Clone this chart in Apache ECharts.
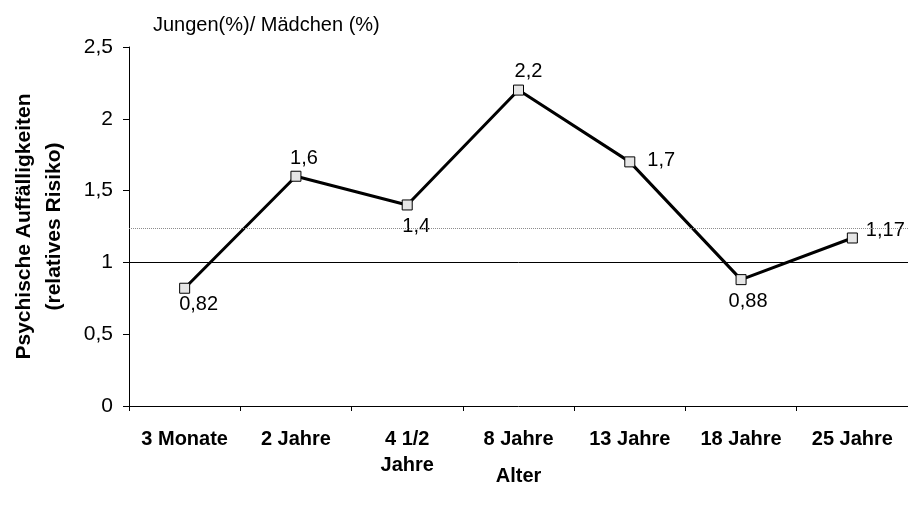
<!DOCTYPE html>
<html>
<head>
<meta charset="utf-8">
<script src="https://cdn.jsdelivr.net/npm/echarts@6/dist/echarts.min.js"></script>
<style>
  html, body { margin: 0; padding: 0; background: #fff; }
  #chart { width: 908px; height: 512px; }
</style>
</head>
<body>
<div id="chart"></div>
<script>
// Altersstufen und relatives Risiko (Jungen / Mädchen)
const categories = ['3 Monate', '2 Jahre', '4 1/2\nJahre', '8 Jahre', '13 Jahre', '18 Jahre', '25 Jahre'];
const riskValues = [0.82, 1.6, 1.4, 2.2, 1.7, 0.88, 1.17];
// Beschriftungsposition je Punkt
const labelPlacement = ['bottom', 'top', 'bottom', 'top', 'right', 'bottom', 'right'];
const labelShift = [[14, -5], [8, 4], [9, 0], [10, 3], [6, -1], [7, 0], [2, -8]];
// Referenzlinien: Gleichstand (1) und Mittelwert (gepunktet)
const baseLine = 1;
const meanLine = 1.24;
const yTicks = { min: 0, max: 2.5, step: 0.5 };

const FONT = "'Liberation Sans', Arial, sans-serif";
const fmt = v => String(v).replace('.', ',');

const chart = echarts.init(document.getElementById('chart'), null, { renderer: 'canvas' });

chart.setOption({
  animation: false,
  backgroundColor: '#ffffff',
  textStyle: { fontFamily: FONT, color: '#000' },
  title: {
    text: 'Jungen(%)/ Mädchen (%)',
    left: 148,
    top: 10,
    textStyle: { fontFamily: FONT, fontSize: 20, fontWeight: 'normal', color: '#000' }
  },
  grid: { left: 129, right: 0, top: 47, bottom: 106, containLabel: false },
  xAxis: {
    type: 'category',
    data: categories,
    boundaryGap: true,
    name: 'Alter',
    nameLocation: 'middle',
    nameGap: 60,
    nameMoveOverlap: false,
    nameTextStyle: { fontFamily: FONT, fontSize: 20, fontWeight: 'bold', color: '#000' },
    axisLine: { lineStyle: { color: '#000', width: 1 } },
    axisTick: { show: true, length: 5, alignWithLabel: false, lineStyle: { color: '#000' } },
    axisLabel: {
      interval: 0,
      margin: 20,
      fontFamily: FONT,
      fontSize: 20,
      fontWeight: 'bold',
      color: '#000',
      lineHeight: 26
    },
    splitLine: { show: false }
  },
  yAxis: {
    type: 'value',
    min: yTicks.min,
    max: yTicks.max,
    interval: yTicks.step,
    name: 'Psychische Auffälligkeiten\n(relatives Risiko)',
    nameLocation: 'middle',
    nameGap: 60,
    nameMoveOverlap: false,
    nameTextStyle: { fontFamily: FONT, fontSize: 21, fontWeight: 'bold', color: '#000', lineHeight: 30 },
    axisLine: { show: true, lineStyle: { color: '#000', width: 1 } },
    axisTick: { show: true, length: 6, lineStyle: { color: '#000' } },
    axisLabel: {
      margin: 16,
      fontFamily: FONT,
      fontSize: 21,
      color: '#000',
      formatter: v => fmt(v)
    },
    splitLine: { show: false }
  },
  series: [
    {
      // Referenzlinien hinter der Kurve
      type: 'line',
      data: [],
      z: 1,
      silent: true,
      markLine: {
        symbol: 'none',
        silent: true,
        label: { show: false },
        data: [
          { yAxis: baseLine, lineStyle: { color: '#000', width: 1, type: 'solid' } },
          { yAxis: meanLine, lineStyle: { color: '#8c8c8c', width: 1, type: [1, 1] } }
        ]
      }
    },
    {
      type: 'line',
      z: 3,
      data: riskValues.map((v, i) => ({
        value: v,
        label: { position: labelPlacement[i], offset: labelShift[i] }
      })),
      lineStyle: { color: '#000', width: 3 },
      symbol: 'rect',
      symbolSize: 10,
      itemStyle: { color: '#e6e6e6', borderColor: '#000', borderWidth: 1 },
      label: {
        show: true,
        fontFamily: FONT,
        fontSize: 20,
        color: '#000',
        distance: 6,
        formatter: p => fmt(p.value)
      }
    }
  ]
});
</script>
</body>
</html>
